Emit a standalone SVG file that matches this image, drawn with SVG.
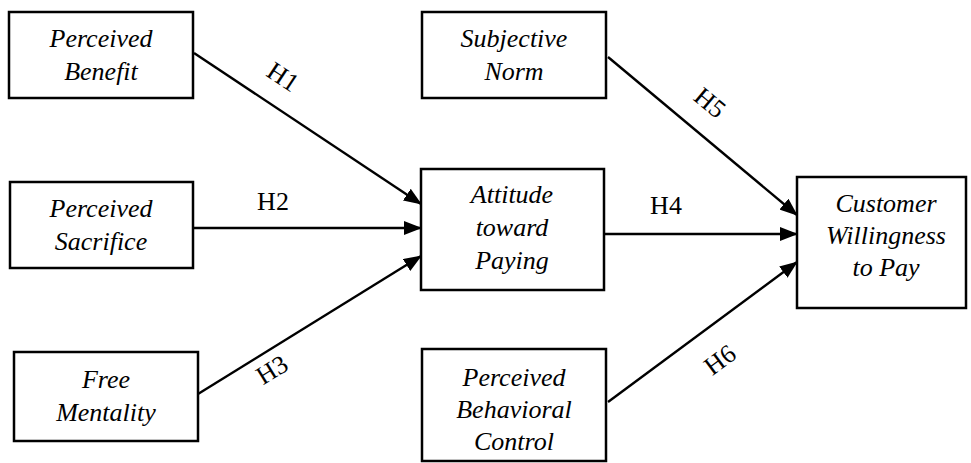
<svg xmlns="http://www.w3.org/2000/svg" width="971" height="463" viewBox="0 0 971 463">
<style>
.box{fill:#fff;stroke:#000;stroke-width:2.5}
.nt{font-family:'Liberation Serif','Tinos','Times New Roman','DejaVu Serif',serif;font-style:italic;font-size:26px;text-anchor:middle;fill:#000}
.lb{font-family:'Liberation Serif','Tinos','Times New Roman','DejaVu Serif',serif;font-size:26px;text-anchor:middle;dominant-baseline:central;fill:#000}
.cn{stroke:#000;stroke-width:2.4;fill:none;marker-end:url(#ah)}
</style>
<defs>
<marker id="ah" markerWidth="18" markerHeight="14" refX="17" refY="7" orient="auto" markerUnits="userSpaceOnUse">
<path d="M0,0 L18,7 L0,14 Z" fill="#000"/>
</marker>
</defs>
<rect width="971" height="463" fill="#fff"/>
<g id="connectors">
<line class="cn" x1="194" y1="53" x2="421" y2="204"/>
<line class="cn" x1="194" y1="228" x2="421" y2="228"/>
<line class="cn" x1="198" y1="394" x2="421" y2="256"/>
<line class="cn" x1="604" y1="234" x2="797" y2="234"/>
<line class="cn" x1="608" y1="57" x2="797" y2="215"/>
<line class="cn" x1="608" y1="402" x2="797" y2="262"/>
<text class="lb" transform="translate(283,77) rotate(33.6)">H1</text>
<text class="lb" x="273" y="201">H2</text>
<text class="lb" transform="translate(272,370) rotate(-31.7)">H3</text>
<text class="lb" x="666" y="205">H4</text>
<text class="lb" transform="translate(710,103) rotate(39.9)">H5</text>
<text class="lb" transform="translate(720,360) rotate(-36.5)">H6</text>
</g>
<g id="perceived-benefit">
<rect class="box" x="9" y="12" width="184" height="86"/>
<text class="nt" x="101" y="47">Perceived</text>
<text class="nt" x="101" y="80">Benefit</text>
</g>
<g id="perceived-sacrifice">
<rect class="box" x="10" y="182" width="183" height="86"/>
<text class="nt" x="101" y="217">Perceived</text>
<text class="nt" x="101" y="250">Sacrifice</text>
</g>
<g id="free-mentality">
<rect class="box" x="14" y="352" width="184" height="89"/>
<text class="nt" x="106" y="388">Free</text>
<text class="nt" x="106" y="421">Mentality</text>
</g>
<g id="attitude">
<rect class="box" x="421" y="169" width="183" height="121"/>
<text class="nt" x="512" y="203">Attitude</text>
<text class="nt" x="512" y="236">toward</text>
<text class="nt" x="512" y="269">Paying</text>
</g>
<g id="subjective-norm">
<rect class="box" x="422" y="12" width="184" height="86"/>
<text class="nt" x="514" y="47">Subjective</text>
<text class="nt" x="514" y="80">Norm</text>
</g>
<g id="pbc">
<rect class="box" x="422" y="349" width="184" height="112"/>
<text class="nt" x="514" y="386">Perceived</text>
<text class="nt" x="514" y="418">Behavioral</text>
<text class="nt" x="514" y="450">Control</text>
</g>
<g id="customer-wtp">
<rect class="box" x="797" y="177" width="169" height="131"/>
<text class="nt" x="886" y="212">Customer</text>
<text class="nt" x="886" y="244">Willingness</text>
<text class="nt" x="886" y="276">to Pay</text>
</g>
</svg>
